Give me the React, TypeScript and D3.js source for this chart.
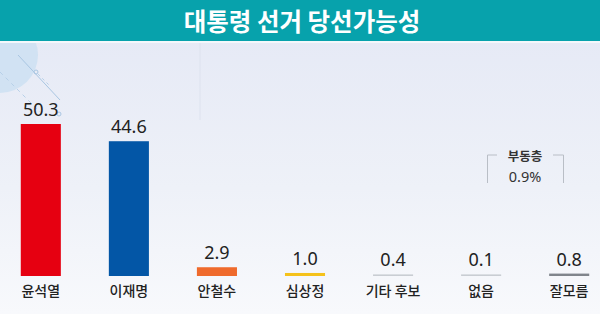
import React, { useEffect } from "react";
import * as d3 from "d3";

const title = "대통령 선거 당선가능성";
const categories = ["윤석열", "이재명", "안철수", "심상정", "기타 후보", "없음", "잘모름"];
const values = [50.3, 44.6, 2.9, 1.0, 0.4, 0.1, 0.8];
const valueLabels = ["50.3", "44.6", "2.9", "1.0", "0.4", "0.1", "0.8"];
const colors = ["#e60011", "#0356a6", "#ef6a2c", "#f5c21b", "#c9cdd3", "#c9cdd3", "#80858c"];
const floatingLabel = "부동층";
const floatingValue = "0.9%";

const W = 600;
const H = 314;

export default function App() {
  useEffect(() => {
    document.body.style.margin = "0";
  }, []);

  const x = d3.scaleBand<string>().domain(categories).range([-3, 613]).paddingInner(0.545).paddingOuter(0.27);
  const y = d3.scaleLinear().domain([0, 50.3]).range([276, 124]);
  const bw = x.bandwidth();

  const korean = "'Noto Sans CJK KR', 'Noto Sans', sans-serif";

  return (
    <svg width={W} height={H} style={{ display: "block", position: "absolute", left: 0, top: 0 }}>
      <defs>
        <linearGradient id="bg" x1="0" y1="0" x2="0" y2="1">
          <stop offset="0" stopColor="#e4e8f5" />
          <stop offset="0.6" stopColor="#eef1f8" />
          <stop offset="1" stopColor="#f8f9fc" />
        </linearGradient>
      </defs>
      <rect x={0} y={0} width={W} height={H} fill="url(#bg)" />
      {/* decorations */}
      <circle cx={0} cy={55} r={38} fill="#cde1f2" opacity={0.85} />
      <line x1={18} y1={55} x2={60} y2={100} stroke="#a9c6e2" strokeWidth={1} />
      <line x1={0} y1={72} x2={40} y2={112} stroke="#b7d0e8" strokeWidth={1} strokeDasharray="4 4" />
      <line x1={38} y1={74} x2={50} y2={86} stroke="#b7d0e8" strokeWidth={1} strokeDasharray="3 3" />
      <circle cx={36} cy={72} r={2} fill="none" stroke="#a9c6e2" strokeWidth={1} />
      <circle cx={59} cy={114} r={2} fill="none" stroke="#a9c6e2" strokeWidth={1} />
      <line x1={200} y1={43} x2={200} y2={120} stroke="#dde2ee" strokeWidth={1} />

      {/* header */}
      <rect x={0} y={0} width={W} height={41} fill="#07a2ac" />
      <rect x={0} y={41} width={W} height={2} fill="#f4f8fb" />
      <text
        x={302}
        y={31}
        textAnchor="middle"
        fill="#ffffff"
        fontFamily={korean}
        fontWeight={700}
        fontSize={24.5}
      >
        {title}
      </text>

      {/* bars */}
      {categories.map((c, i) => {
        const top = y(values[i]);
        const h = Math.max(y(0) - top, 1.6);
        const cx = (x(c) as number) + bw / 2;
        return (
          <g key={c}>
            <rect x={x(c)} y={y(0) - h} width={bw} height={h} fill={colors[i]} />
            <text
              x={cx}
              y={Math.min(top, y(0) - h) - 8}
              textAnchor="middle"
              fill="#222"
              fontFamily="'Noto Sans', sans-serif"
              fontWeight={400}
              fontSize={18}
            >
              {valueLabels[i]}
            </text>
            <text
              x={cx}
              y={296}
              textAnchor="middle"
              fill="#222"
              fontFamily={korean}
              fontWeight={500}
              fontSize={14}
            >
              {c}
            </text>
          </g>
        );
      })}

      {/* floating voters annotation */}
      <path d="M497,155 H487.5 V183" fill="none" stroke="#b9bec6" strokeWidth={1} />
      <path d="M553,155 H563.5 V183" fill="none" stroke="#b9bec6" strokeWidth={1} />
      <text x={525} y={161} textAnchor="middle" fill="#333" fontFamily={korean} fontWeight={700} fontSize={12.5}>
        {floatingLabel}
      </text>
      <text x={525} y={182} textAnchor="middle" fill="#333" fontFamily="'Noto Sans', sans-serif" fontSize={14.5}>
        {floatingValue}
      </text>
    </svg>
  );
}
